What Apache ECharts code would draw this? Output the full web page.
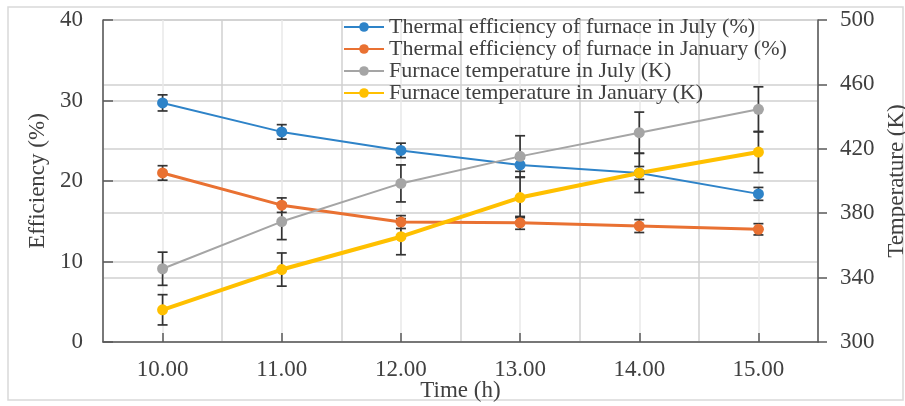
<!DOCTYPE html>
<html>
<head>
<meta charset="utf-8">
<script src="https://cdn.jsdelivr.net/npm/echarts@6/dist/echarts.min.js"></script>
<style>html,body{margin:0;padding:0;background:#fff}#c{width:905px;height:406px}</style>
</head>
<body>
<div id="c"></div>
<script>
var categories = ['10.00', '11.00', '12.00', '13.00', '14.00', '15.00'];
var effJuly = [29.7, 26.1, 23.8, 22.0, 21.0, 18.4];
var effJulyErr = [1.0, 0.9, 0.9, 0.8, 0.8, 0.8];
var effJan = [21.0, 17.0, 14.9, 14.8, 14.4, 14.0];
var effJanErr = [0.9, 0.9, 0.8, 0.8, 0.8, 0.7];
var tempJuly = [345.5, 374.8, 398.5, 415.3, 430.0, 444.5];
var tempJulyErr = [10.3, 11.2, 11.5, 12.8, 12.8, 14.0];
var tempJan = [320.0, 345.0, 365.4, 389.7, 405.0, 418.0];
var tempJanErr = [9.4, 10.3, 11.2, 12.5, 12.2, 12.8];
var names = ['Thermal efficiency of furnace in July (%)', 'Thermal efficiency of furnace in January (%)', 'Furnace temperature in July (K)', 'Furnace temperature in January (K)'];

var FONT = 'Liberation Serif';
var TXT = '#404040';
var AX = '#595959';

function errData(vals, errs) {
  return vals.map(function (v, i) { return [i, v - errs[i], v + errs[i]]; });
}
function errSeries(vals, errs, yIdx) {
  return {
    type: 'custom', xAxisIndex: 0, yAxisIndex: yIdx, silent: true,
    data: errData(vals, errs),
    renderItem: function (params, api) {
      var lo = api.coord([api.value(0), api.value(1)]);
      var hi = api.coord([api.value(0), api.value(2)]);
      var w = 5;
      var st = { stroke: '#333333', lineWidth: 1.7 };
      return { type: 'group', children: [
        { type: 'line', shape: { x1: lo[0], y1: lo[1], x2: hi[0], y2: hi[1] }, style: st },
        { type: 'line', shape: { x1: lo[0] - w, y1: lo[1], x2: lo[0] + w, y2: lo[1] }, style: st },
        { type: 'line', shape: { x1: hi[0] - w, y1: hi[1], x2: hi[0] + w, y2: hi[1] }, style: st }
      ]};
    }
  };
}
function lineSeries(name, vals, yIdx, color, width, size) {
  return {
    name: name, type: 'line', xAxisIndex: 0, yAxisIndex: yIdx, data: vals,
    symbol: 'circle', symbolSize: size, showSymbol: true,
    lineStyle: { color: color, width: width },
    itemStyle: { color: color },
    emphasis: { disabled: true }
  };
}

var chart = echarts.init(document.getElementById('c'), null, { renderer: 'canvas' });
chart.setOption({
  animation: false,
  backgroundColor: '#fff',
  textStyle: { fontFamily: FONT },
  graphic: [{
    type: 'rect', silent: true, z: -10,
    shape: { x: 8, y: 7, width: 895, height: 393 },
    style: { fill: 'none', stroke: '#d9d9d9', lineWidth: 1.5 }
  }],
  grid: { left: 103, right: 87, top: 20, bottom: 64, containLabel: false, outerBoundsMode: 'none' },
  legend: {
    data: names, orient: 'vertical', left: 338, top: 11,
    itemWidth: 40, itemHeight: 12, itemGap: 0,
    textStyle: { fontFamily: FONT, fontSize: 22, color: TXT }
  },
  xAxis: [{
    type: 'category', data: categories, boundaryGap: true,
    name: 'Time (h)', nameLocation: 'middle', nameGap: 37, nameMoveOverlap: false,
    nameTextStyle: { fontFamily: FONT, fontSize: 23, color: TXT },
    axisLine: { lineStyle: { color: AX, width: 1.5 } },
    axisTick: { show: true, inside: true, alignWithLabel: true, length: 9, lineStyle: { color: AX, width: 1.5 } },
    axisLabel: { fontFamily: FONT, fontSize: 23, color: TXT, margin: 16 },
    splitLine: { show: true, lineStyle: { color: '#d0d0d0', width: 1.5 } }
  }, {
    type: 'value', min: 0, max: 12, interval: 1, position: 'top',
    axisLine: { show: false }, axisTick: { show: false }, axisLabel: { show: false },
    splitLine: { show: true, lineStyle: { color: ['rgba(0,0,0,0)', '#e9e9e9'], width: 1.5 } }
  }],
  yAxis: [{
    type: 'value', min: 0, max: 40, interval: 10, position: 'left',
    name: 'Efficiency (%)', nameLocation: 'middle', nameGap: 48, nameRotate: 90,
    nameTextStyle: { fontFamily: FONT, fontSize: 23, color: TXT },
    axisLine: { show: true, lineStyle: { color: AX, width: 1.5 } },
    axisTick: { show: true, inside: true, length: 10, lineStyle: { color: AX, width: 1.5 } },
    axisLabel: { fontFamily: FONT, fontSize: 23, color: TXT, margin: 20 },
    splitLine: { show: true, lineStyle: { color: '#d0d0d0', width: 1.5 } }
  }, {
    type: 'value', min: 300, max: 500, interval: 40, position: 'right',
    name: 'Temperature (K)', nameLocation: 'middle', nameGap: 67, nameRotate: 90,
    nameTextStyle: { fontFamily: FONT, fontSize: 23, color: TXT },
    axisLine: { show: true, lineStyle: { color: AX, width: 1.5 } },
    axisTick: { show: true, inside: false, length: 9, lineStyle: { color: AX, width: 1.5 } },
    axisLabel: { fontFamily: FONT, fontSize: 23, color: TXT, margin: 22 },
    splitLine: { show: true, lineStyle: { color: '#d0d0d0', width: 1.5 } }
  }],
  series: [
    errSeries(effJuly, effJulyErr, 0),
    lineSeries(names[0], effJuly, 0, '#2E83C8', 2, 11),
    errSeries(effJan, effJanErr, 0),
    lineSeries(names[1], effJan, 0, '#E97132', 3, 11),
    errSeries(tempJuly, tempJulyErr, 1),
    lineSeries(names[2], tempJuly, 1, '#A5A5A5', 2, 11),
    errSeries(tempJan, tempJanErr, 1),
    lineSeries(names[3], tempJan, 1, '#FFC000', 4, 11)
  ]
});
</script>
</body>
</html>
